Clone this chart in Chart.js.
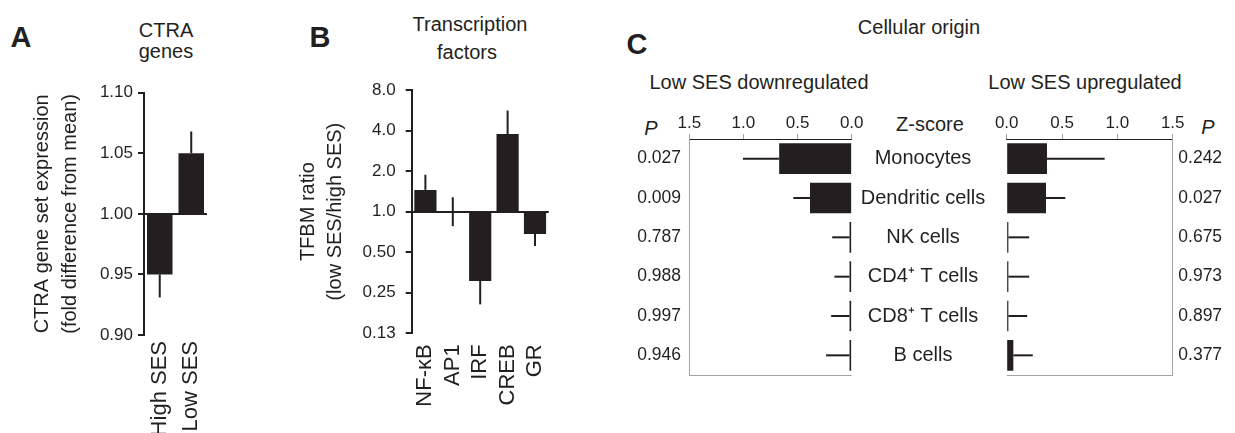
<!DOCTYPE html>
<html>
<head>
<meta charset="utf-8">
<script src="https://cdn.jsdelivr.net/npm/chart.js@4.4.1/dist/chart.umd.min.js"></script>
<style>
html,body{margin:0;padding:0;background:#fff;}
body{width:1235px;height:433px;position:relative;overflow:hidden;font-family:"Liberation Sans",Arial,Helvetica,sans-serif;color:#231f20;}
canvas{position:absolute;}
.t{position:absolute;transform:translate(-50%,-50%);white-space:nowrap;line-height:1;font-size:20px;}
.L{position:absolute;transform:translate(-50%,-50%);font-weight:bold;font-size:29px;line-height:1;}
.i{font-style:italic;}
</style>
</head>
<body>
<div class="L" style="left:21px;top:37px">A</div>
<div class="t" style="left:166px;top:30px">CTRA</div>
<div class="t" style="left:166px;top:51px">genes</div>
<div class="L" style="left:320px;top:37px">B</div>
<div class="t" style="left:470px;top:24px">Transcription</div>
<div class="t" style="left:467px;top:52px">factors</div>
<div class="L" style="left:637px;top:44px">C</div>
<div class="t" style="left:919px;top:27px">Cellular origin</div>
<div class="t" style="left:759px;top:82px">Low SES downregulated</div>
<div class="t" style="left:1085px;top:82px">Low SES upregulated</div>
<div class="t i" style="left:651px;top:128px">P</div>
<div class="t i" style="left:1208px;top:127px">P</div>
<div class="t" style="left:930px;top:124px">Z-score</div>
<script>
// ---------- data ----------
const ctraCategories = ['High SES', 'Low SES'];
const ctraValues = [0.95, 1.05];
const ctraErrLow = [0.931, null];
const ctraErrHigh = [null, 1.068];
const ctraBase = 1.0;
const ctraTicks = [0.90, 0.95, 1.00, 1.05, 1.10];
const ctraTickLabels = ['0.90', '0.95', '1.00', '1.05', '1.10'];
const ctraAxisTitle = ['CTRA gene set expression', '(fold difference from mean)'];

const tfCategories = ['NF-\u03BAB', 'AP1', 'IRF', 'CREB', 'GR'];
const tfValues = [1.45, 1.0, 0.306, 3.77, 0.682];
const tfErrLow = [null, 0.78, 0.205, null, 0.555];
const tfErrHigh = [1.88, 1.28, null, 5.63, null];
const tfBase = 1.0;
const tfTicks = [0.125, 0.25, 0.5, 1, 2, 4, 8];
const tfTickLabels = ['0.13', '0.25', '0.50', '1.0', '2.0', '4.0', '8.0'];
const tfAxisTitle = ['TFBM ratio', '(low SES/high SES)'];

const cellTypes = ['Monocytes', 'Dendritic cells', 'NK cells', 'CD4\u207A T cells', 'CD8\u207A T cells', 'B cells'];
const downZ = [0.67, 0.385, 0.02, 0.02, 0.02, 0.02];
const downErr = [1.005, 0.539, 0.18, 0.16, 0.19, 0.237];
const downP = ['0.027', '0.009', '0.787', '0.988', '0.997', '0.946'];
const upZ = [0.364, 0.355, 0.015, 0.015, 0.015, 0.06];
const upErr = [0.885, 0.53, 0.203, 0.203, 0.185, 0.236];
const upP = ['0.242', '0.027', '0.675', '0.973', '0.897', '0.377'];
const zTicks = [0, 0.5, 1.0, 1.5];

// ---------- setup ----------
const DARK = '#231f20', GREY = '#a3a3a3', CLEAR = 'rgba(0,0,0,0)';
const FAM = '"Liberation Sans", Arial, Helvetica, sans-serif';
Chart.defaults.font.family = FAM;
Chart.defaults.color = DARK;

function mk(left, top, w, h) {
  const c = document.createElement('canvas');
  c.width = w; c.height = h;
  c.style.left = left + 'px'; c.style.top = top + 'px';
  c.style.width = w + 'px'; c.style.height = h + 'px';
  document.body.appendChild(c);
  return c;
}
const base = {
  responsive: false, animation: false, devicePixelRatio: 1, events: [],
  plugins: { legend: { display: false }, tooltip: { enabled: false } }
};
function fixW(w) { return s => { s.width = w; s.paddingTop = 0; s.paddingBottom = 0; }; }
function fixH(h) { return s => { s.height = h; s.paddingLeft = 0; s.paddingRight = 0; }; }

const errorBars = {
  id: 'errbars',
  afterDatasetsDraw(chart) {
    const ds = chart.data.datasets[0];
    const meta = chart.getDatasetMeta(0);
    const horiz = chart.options.indexAxis === 'y';
    const vs = horiz ? chart.scales.x : chart.scales.y;
    const ctx = chart.ctx;
    ctx.save();
    ctx.strokeStyle = DARK; ctx.lineWidth = 2; ctx.lineCap = 'butt';
    meta.data.forEach((el, i) => {
      const v = ds.vals[i];
      const lo = (ds.errLow && ds.errLow[i] != null) ? ds.errLow[i] : v;
      const hi = (ds.errHigh && ds.errHigh[i] != null) ? ds.errHigh[i] : v;
      if (lo === hi) return;
      const p1 = vs.getPixelForValue(lo), p2 = vs.getPixelForValue(hi);
      ctx.beginPath();
      if (horiz) { ctx.moveTo(p1, el.y); ctx.lineTo(p2, el.y); }
      else { ctx.moveTo(el.x, p1); ctx.lineTo(el.x, p2); }
      ctx.stroke();
    });
    ctx.restore();
  }
};
const bottomFrame = {
  id: 'bottomFrame',
  afterDraw(chart) {
    const a = chart.chartArea, ctx = chart.ctx;
    ctx.save();
    ctx.strokeStyle = GREY; ctx.lineWidth = 1;
    ctx.beginPath();
    ctx.moveTo(a.left, Math.round(a.bottom) + 0.5);
    ctx.lineTo(a.right, Math.round(a.bottom) + 0.5);
    ctx.stroke();
    ctx.restore();
  }
};
function near(c, v) { return c.tick && Math.abs(c.tick.value - v) < 1e-9; }

// ---------- Panel A ----------
new Chart(mk(0, 60, 230, 373), {
  type: 'bar',
  data: {
    labels: ctraCategories,
    datasets: [{
      data: ctraValues.map(v => [ctraBase, v]), vals: ctraValues,
      errLow: ctraErrLow, errHigh: ctraErrHigh,
      backgroundColor: DARK, barPercentage: 0.81, categoryPercentage: 1
    }]
  },
  options: Object.assign({}, base, {
    layout: { padding: { left: 0, top: 32.7, right: 23, bottom: 0 } },
    scales: {
      x: {
        grid: { display: false, drawTicks: false }, border: { display: false },
        ticks: { autoSkip: false, minRotation: 90, maxRotation: 90, padding: 6, font: { size: 22 } },
        afterFit: fixH(98)
      },
      y: {
        type: 'linear', min: 0.9, max: 1.1,
        afterBuildTicks: s => { s.ticks = ctraTicks.map(v => ({ value: v })); },
        ticks: { callback: (v, i) => ctraTickLabels[i], padding: 5, font: { size: 17 } },
        grid: {
          drawOnChartArea: true, color: c => near(c, ctraBase) ? DARK : CLEAR, lineWidth: 2,
          drawTicks: true, tickLength: 6, tickColor: DARK, tickWidth: 2
        },
        border: { display: true, color: DARK, width: 2 },
        title: { display: true, text: ctraAxisTitle, font: { size: 20, lineHeight: 1.4 }, padding: { top: 28, bottom: 0 } },
        afterFit: fixW(144)
      }
    }
  }),
  plugins: [errorBars]
});

// ---------- Panel B ----------
new Chart(mk(250, 60, 320, 373), {
  type: 'bar',
  data: {
    labels: tfCategories,
    datasets: [{
      data: tfValues.map(v => [tfBase, v]), vals: tfValues,
      errLow: tfErrLow, errHigh: tfErrHigh,
      backgroundColor: DARK, barPercentage: 0.81, categoryPercentage: 1
    }]
  },
  options: Object.assign({}, base, {
    layout: { padding: { left: 0, top: 30, right: 21.3, bottom: 0 } },
    scales: {
      x: {
        grid: { display: false, drawTicks: false }, border: { display: false },
        ticks: { autoSkip: false, minRotation: 90, maxRotation: 90, padding: 11, font: { size: 22 } },
        afterFit: fixH(99.7)
      },
      y: {
        type: 'logarithmic', min: 0.125, max: 8,
        afterBuildTicks: s => { s.ticks = tfTicks.map(v => ({ value: v })); },
        ticks: { callback: (v, i) => tfTickLabels[i], padding: 10, font: { size: 17 } },
        grid: {
          drawOnChartArea: true, color: c => near(c, tfBase) ? DARK : CLEAR, lineWidth: 2,
          drawTicks: true, tickLength: 6, tickColor: DARK, tickWidth: 2
        },
        border: { display: true, color: DARK, width: 2 },
        title: { display: true, text: tfAxisTitle, font: { size: 20, lineHeight: 1.35 }, padding: { top: 44.5, bottom: 0 } },
        afterFit: fixW(161.7)
      }
    }
  }),
  plugins: [errorBars]
});

// ---------- Panel C (left: downregulated) ----------
const zAxisCommon = {
  type: 'linear', position: 'top', min: 0, max: 1.5,
  afterBuildTicks: s => { s.ticks = zTicks.map(v => ({ value: v })); },
  ticks: { callback: v => v.toFixed(1), padding: 0, font: { size: 17 } },
  grid: { drawOnChartArea: false, drawTicks: true, tickLength: 5, tickColor: GREY, tickWidth: 1 },
  border: { display: true, color: DARK, width: 1 },
  afterFit: fixH(79)
};
new Chart(mk(600, 60, 280, 330), {
  type: 'bar',
  data: {
    labels: cellTypes,
    datasets: [{
      data: downZ, vals: downZ, errHigh: downErr,
      backgroundColor: DARK, barPercentage: 0.78, categoryPercentage: 1
    }]
  },
  options: Object.assign({}, base, {
    indexAxis: 'y',
    layout: { padding: { left: 0, top: 0, right: 28.3, bottom: 15 } },
    scales: {
      x: Object.assign({}, zAxisCommon, { reverse: true }),
      y: {
        type: 'category', labels: downP, offset: true,
        grid: { display: false, drawTicks: false },
        border: { display: true, color: GREY, width: 1 },
        ticks: { padding: 8.3, font: { size: 17.5 } },
        afterFit: fixW(89.3)
      }
    }
  }),
  plugins: [errorBars, bottomFrame]
});

// ---------- Panel C (right: upregulated) ----------
const mctx = document.createElement('canvas').getContext('2d');
mctx.font = '20px ' + FAM;
const widestCell = Math.max(...cellTypes.map(s => mctx.measureText(s).width));
const cellPad = 83.7 - widestCell / 2;

new Chart(mk(850, 60, 385, 330), {
  type: 'bar',
  data: {
    labels: cellTypes,
    datasets: [{
      data: upZ, vals: upZ, errHigh: upErr,
      backgroundColor: DARK, barPercentage: 0.78, categoryPercentage: 1
    }]
  },
  options: Object.assign({}, base, {
    indexAxis: 'y',
    layout: { padding: { left: 0, top: 0, right: 0, bottom: 15 } },
    scales: {
      x: Object.assign({}, zAxisCommon),
      y: {
        type: 'category', offset: true,
        grid: { display: false, drawTicks: false },
        border: { display: false },
        ticks: { crossAlign: 'center', padding: cellPad, font: { size: 20 } },
        afterFit: fixW(156.7)
      },
      y2: {
        type: 'category', axis: 'y', position: 'right', labels: upP, offset: true,
        grid: { display: false, drawTicks: false },
        border: { display: true, color: GREY, width: 1 },
        ticks: { padding: 5.6, font: { size: 17.5 } },
        afterFit: fixW(62.3)
      }
    }
  }),
  plugins: [errorBars, bottomFrame]
});
</script>
</body>
</html>
